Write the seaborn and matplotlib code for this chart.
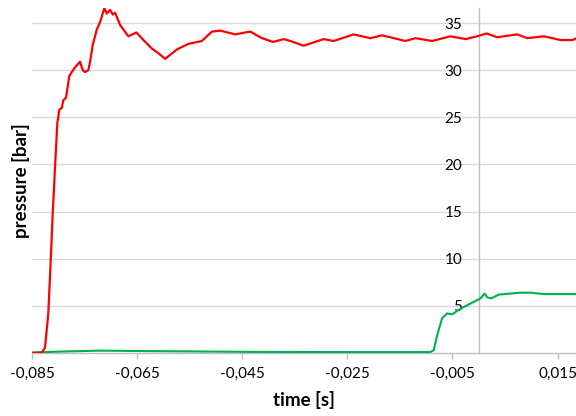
import numpy as np
import pandas as pd
import matplotlib
matplotlib.use("Agg")
import matplotlib.pyplot as plt
import seaborn as sns

# chamber pressure (red) and line pressure (green), time in seconds
t_red = [-0.0850, -0.08310, -0.08252, -0.08190, -0.08144, -0.08106, -0.08062, -0.08018,
         -0.07980, -0.07934, -0.07904, -0.07852, -0.07790, -0.07744, -0.07681, -0.07586,
         -0.07534, -0.07490, -0.07428, -0.07395, -0.07344, -0.07268, -0.07205, -0.07123,
         -0.07077, -0.07014, -0.06963, -0.06919, -0.06824, -0.06666, -0.06513, -0.06380,
         -0.06220, -0.06094, -0.05967, -0.05744, -0.05523, -0.05268, -0.05077, -0.04919,
         -0.04633, -0.04348, -0.04125, -0.03915, -0.03713, -0.03586, -0.03332, -0.02951,
         -0.02761, -0.02380, -0.02062, -0.01839, -0.01395, -0.01205, -0.00887, -0.00538,
         -0.00252, -0.00030, 0.00148, 0.00351, 0.00732, 0.00923, 0.01239, 0.01557,
         0.01780, 0.01862]
p_red = [0.0, 0.05, 0.6, 4.2, 9.8, 14.8, 19.7, 24.4,
         25.8, 26.0, 26.8, 27.1, 29.4, 29.8, 30.3, 30.9,
         30.0, 29.8, 30.0, 30.9, 32.7, 34.3, 35.1, 36.6,
         36.0, 36.4, 35.9, 36.1, 34.8, 33.6, 34.0, 33.2,
         32.3, 31.8, 31.2, 32.2, 32.8, 33.1, 34.1, 34.2,
         33.8, 34.1, 33.4, 33.0, 33.3, 33.1, 32.6, 33.3,
         33.1, 33.8, 33.4, 33.7, 33.1, 33.4, 33.1, 33.6,
         33.3, 33.6, 33.9, 33.5, 33.8, 33.4, 33.6, 33.2,
         33.2, 33.4]

t_green = [-0.0850, -0.07967, -0.07205, -0.06252, -0.04348, -0.02443, -0.00919, -0.00856,
           -0.00791, -0.00728, -0.00696, -0.00601, -0.00506, -0.00347, -0.00157, 0.00034,
           0.00110, 0.00161, 0.00238, 0.00382, 0.00795, 0.00986, 0.01239, 0.01862]
p_green = [0.05, 0.15, 0.25, 0.2, 0.12, 0.1, 0.1, 0.3,
           1.9, 3.1, 3.7, 4.2, 4.1, 4.7, 5.25, 5.8,
           6.3, 5.9, 5.8, 6.2, 6.4, 6.4, 6.25, 6.25]

x_ticks = [-0.085, -0.065, -0.045, -0.025, -0.005, 0.015]
x_tick_labels = ["-0,085", "-0,065", "-0,045", "-0,025", "-0,005", "0,015"]
y_ticks = [5, 10, 15, 20, 25, 30, 35]

sns.set_theme(style="white")
plt.rcParams["font.family"] = ["Lato", "DejaVu Sans"]

red = pd.DataFrame({"time": t_red, "pressure": p_red})
green = pd.DataFrame({"time": t_green, "pressure": p_green})

fig = plt.figure(figsize=(5.76, 4.16), dpi=100)
ax = fig.add_axes([32 / 576, 63 / 416, 544 / 576, 345 / 416])

grid_c = "#D9D9D9"
for y in y_ticks:
    ax.axhline(y, color=grid_c, lw=1.0, zorder=0)

sns.lineplot(data=green, x="time", y="pressure", color="#00B050", lw=1.5, ax=ax, sort=False, zorder=3)
sns.lineplot(data=red, x="time", y="pressure", color="#FF0000", lw=1.6, ax=ax, sort=False, zorder=4)

ax.set_xlim(-0.085, 0.0185)
ax.set_ylim(0, 36.6)

for s in ["top", "right"]:
    ax.spines[s].set_visible(False)
ax.spines["left"].set_position(("data", 0))
ax.spines["left"].set_color("#BFBFBF")
ax.spines["left"].set_linewidth(1.0)
ax.spines["bottom"].set_color("#BFBFBF")
ax.spines["bottom"].set_linewidth(1.0)

ax.set_xticks(x_ticks)
ax.set_xticklabels(x_tick_labels)
ax.set_yticks(y_ticks)
ax.set_yticklabels([str(v) for v in y_ticks])
ax.tick_params(axis="x", direction="out", length=4, width=1, color="#BFBFBF",
               labelsize=11, labelcolor="black", pad=6, bottom=True)
ax.tick_params(axis="y", length=0, labelsize=11, labelcolor="black", pad=12)

ax.set_xlabel("time [s]", fontsize=13.5, fontweight="bold", color="black",
              va="center")
ax.set_ylabel("pressure [bar]", fontsize=13.5, fontweight="bold", color="black",
              va="center")
ax.xaxis.set_label_coords(0.5, -0.137)
ax.yaxis.set_label_coords(-0.020, 0.5)

fig.savefig("out.png", dpi=100)
